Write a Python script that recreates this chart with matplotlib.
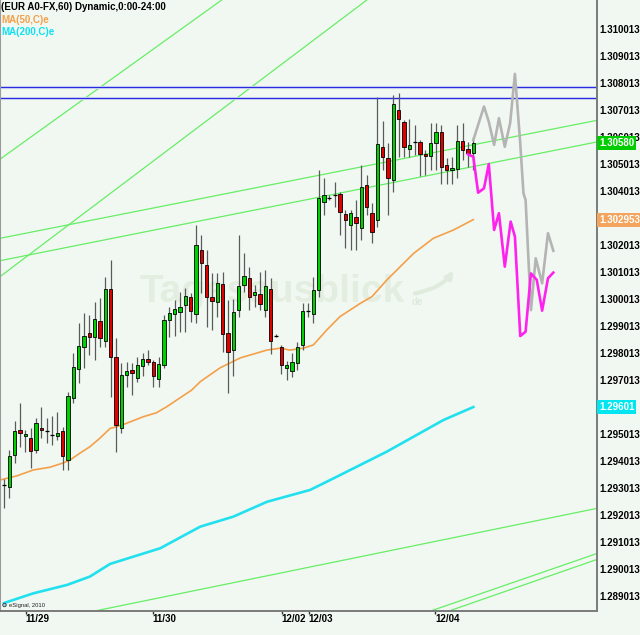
import matplotlib
matplotlib.use('Agg')
import matplotlib.pyplot as plt
from matplotlib.patches import Circle

plt.rcParams['font.family'] = ['Liberation Sans', 'DejaVu Sans']
plt.rcParams['font.weight'] = 'bold'

#--------------------------------------------------
# EUR A0-FX hourly candles
#--------------------------------------------------
opens = [1.29312, 1.29306, 1.29423, 1.29515, 1.29494, 1.29485, 1.29442, 1.29524, 1.29515, 1.29497,
         1.29494, 1.29512, 1.29405, 1.29633, 1.29741, 1.29825, 1.29875, 1.29859, 1.29921, 1.29847,
         1.30037, 1.29788, 1.29522, 1.29718, 1.29738, 1.29710, 1.29753, 1.29779, 1.29768, 1.29704,
         1.29757, 1.29923, 1.29944, 1.29954, 1.29979, 1.30007, 1.29947, 1.30181, 1.30127, 1.30010,
         1.29991, 1.30055, 1.29876, 1.29814, 1.29960, 1.30053, 1.30079, 1.30016, 1.30020, 1.29960,
         1.30039, 1.29866, 1.29825, 1.29744, 1.29736, 1.29763, 1.29831, 1.29957, 1.29944, 1.30034,
         1.30362, 1.30376, 1.30386, 1.30389, 1.30316, 1.30275, 1.30304, 1.30263, 1.30423, 1.30321,
         1.30294, 1.30565, 1.30522, 1.30442, 1.30701, 1.30658, 1.30556, 1.30584, 1.30581, 1.30538,
         1.30531, 1.30578, 1.30621, 1.30496, 1.30479, 1.30481, 1.30588, 1.30557, 1.30543]

closes = [1.29313, 1.29420, 1.29512, 1.29504, 1.29500, 1.29439, 1.29543, 1.29516, 1.29512, 1.29498,
          1.29504, 1.29420, 1.29642, 1.29748, 1.29827, 1.29864, 1.29859, 1.29928, 1.29855, 1.30037,
          1.29788, 1.29534, 1.29718, 1.29736, 1.29726, 1.29757, 1.29780, 1.29769, 1.29716, 1.29759,
          1.29923, 1.29951, 1.29965, 1.29970, 1.30014, 1.29957, 1.30200, 1.30133, 1.30010, 1.29994,
          1.30062, 1.29870, 1.29806, 1.29954, 1.30049, 1.30086, 1.30010, 1.30028, 1.29983, 1.30049,
          1.29847, 1.29866, 1.29757, 1.29757, 1.29767, 1.29825, 1.29958, 1.29957, 1.30034, 1.30376,
          1.30386, 1.30376, 1.30386, 1.30325, 1.30294, 1.30321, 1.30284, 1.30417, 1.30341, 1.30251,
          1.30574, 1.30528, 1.30448, 1.30722, 1.30668, 1.30563, 1.30572, 1.30584, 1.30538, 1.30532,
          1.30578, 1.30618, 1.30489, 1.30479, 1.30488, 1.30588, 1.30553, 1.30541, 1.30580]

highs = [1.29333, 1.29442, 1.29549, 1.29617, 1.29516, 1.29522, 1.29559, 1.29602, 1.29559, 1.29569,
         1.29582, 1.29528, 1.29658, 1.29802, 1.29913, 1.29948, 1.29942, 1.29991, 1.30006, 1.30084,
         1.30146, 1.29855, 1.29763, 1.29768, 1.29763, 1.29788, 1.29800, 1.29812, 1.29775, 1.29788,
         1.29942, 1.29973, 1.29997, 1.30028, 1.30041, 1.30022, 1.30274, 1.30239, 1.30183, 1.30096,
         1.30096, 1.30102, 1.29997, 1.30003, 1.30238, 1.30170, 1.30121, 1.30053, 1.30102, 1.30109,
         1.30080, 1.29870, 1.29831, 1.29773, 1.29800, 1.29843, 1.29987, 1.29987, 1.30084, 1.30479,
         1.30448, 1.30386, 1.30436, 1.30399, 1.30331, 1.30331, 1.30368, 1.30497, 1.30460, 1.30355,
         1.30751, 1.30660, 1.30578, 1.30755, 1.30763, 1.30664, 1.30667, 1.30646, 1.30590, 1.30553,
         1.30652, 1.30652, 1.30646, 1.30522, 1.30528, 1.30646, 1.30652, 1.30584, 1.30600]

lows = [1.29226, 1.29263, 1.29392, 1.29454, 1.29436, 1.29374, 1.29429, 1.29485, 1.29466, 1.29460,
        1.29479, 1.29368, 1.29368, 1.29615, 1.29689, 1.29744, 1.29794, 1.29775, 1.29825, 1.29825,
        1.29639, 1.29436, 1.29506, 1.29676, 1.29645, 1.29695, 1.29716, 1.29757, 1.29676, 1.29676,
        1.29744, 1.29859, 1.29864, 1.29880, 1.29880, 1.29917, 1.29911, 1.30025, 1.29899, 1.29886,
        1.29936, 1.29806, 1.29654, 1.29716, 1.29936, 1.30028, 1.29960, 1.29970, 1.29960, 1.29936,
        1.29797, 1.29862, 1.29722, 1.29701, 1.29713, 1.29738, 1.29812, 1.29936, 1.29911, 1.30010,
        1.30312, 1.30368, 1.30343, 1.30238, 1.30189, 1.30183, 1.30183, 1.30220, 1.30312, 1.30207,
        1.30269, 1.30480, 1.30312, 1.30399, 1.30528, 1.30528, 1.30528, 1.30535, 1.30457, 1.30460,
        1.30479, 1.30479, 1.30427, 1.30427, 1.30427, 1.30448, 1.30516, 1.30491, 1.30479]

# moving averages (bar index, price)
ma50_x = [-0.7, 2.4, 5.5, 8.6, 11.1, 12.4, 14.3, 16.1, 18, 19.9, 21.1, 23, 26.1, 28.6, 30.5, 33, 35.2, 36.8,
          38.6, 40.5, 44.3, 49.3, 51.8, 53.6, 56.1, 58, 60.5, 63, 66.8, 69, 71.8, 74.3, 76.8, 80.5, 84.3, 88]
ma50_y = [1.29331, 1.29346, 1.29368, 1.29378, 1.29394, 1.29405, 1.29431, 1.29454, 1.29486, 1.29522,
          1.29528, 1.29541, 1.29565, 1.29580, 1.29602, 1.29635, 1.29664, 1.29695, 1.29720, 1.29746,
          1.29783, 1.29812, 1.29819, 1.29812, 1.29819, 1.29831, 1.29886, 1.29936, 1.29985, 1.30010,
          1.30072, 1.30121, 1.30170, 1.30226, 1.30257, 1.302953]
ma200_x = [0, 5.5, 11.8, 16.1, 19.9, 29.3, 36.8, 43, 49.3, 57.4, 61.8, 71.8, 82.4, 88]
ma200_y = [1.28875, 1.28911, 1.28942, 1.28973, 1.29020, 1.29078, 1.29158, 1.29195, 1.29250,
           1.29294, 1.29337, 1.29436, 1.29553, 1.29601]

# projected paths
mag_x = [87, 88, 88.9, 90, 90.9, 91.9, 92.8, 93.9, 95, 95.8, 96.8, 97.8, 98.8, 99.9, 100.9, 102, 103]
mag_y = [1.30537, 1.30528, 1.30395, 1.30411, 1.30501, 1.30257, 1.30319, 1.30121, 1.30288, 1.30232,
         1.29864, 1.29880, 1.30096, 1.30072, 1.29958, 1.30078, 1.30099]
gray_x = [88, 88.9, 90, 90.9, 91.9, 92.8, 93.9, 94.9, 95.8, 96.8, 97.4, 97.8, 98.8, 99.7, 100.9, 102, 103]
gray_y = [1.30590, 1.30646, 1.30714, 1.30658, 1.30572, 1.30671, 1.30565, 1.30652, 1.30835, 1.30578,
          1.30393, 1.30368, 1.29960, 1.30152, 1.30059, 1.30245, 1.30180]

# drawn trend lines, two anchor points each
trend_lines = [((-0.75, 1.30519), (36.75, 1.31051)),
               ((-0.75, 1.30084), (55.5, 1.30922)),
               ((-0.75, 1.30226), (111.19, 1.30663)),
               ((-0.75, 1.30143), (111.19, 1.30583)),
               ((17.4, 1.28847), (111.25, 1.29226)),
               ((80.5, 1.28849), (111.25, 1.29059)),
               ((83.95, 1.28849), (111.25, 1.29037))]
blue_levels = [1.30785, 1.30745]

x_ticks = [4.1, 27.9, 52.1, 57.1, 80.8]
x_labels = ['11/29', '11/30', '12/02', '12/03', '12/04']
y_ticks = [1.289013 + 0.001 * k for k in range(22)]
hidden_ticks = ['1.296013', '1.303013']   # fully covered by the value boxes

last_close = 1.30580
last_ma50 = 1.302953
last_ma200 = 1.29601

bg = '#F1F8F1'
fig = plt.figure(figsize=(6.4, 6.35), dpi=100, facecolor=bg)
ax = fig.add_axes([0, 1 - 610.5 / 635, 597 / 640, 610.5 / 635])
ax.set_facecolor('none')

# watermark
ax.text(140 / 640, 1 - 302 / 635, 'Tagesausblick', transform=fig.transFigure, fontsize=28,
        color='#E3EEE0', va='baseline', ha='left', zorder=0.3)
ax.text(412 / 640, 1 - 305 / 635, 'de', transform=fig.transFigure, fontsize=7,
        color='#DDE9DA', va='baseline', ha='left', zorder=0.3)
ax.annotate('', xy=(455 / 640, 1 - 268 / 635), xytext=(412 / 640, 1 - 294 / 635),
            xycoords='figure fraction', textcoords='figure fraction',
            arrowprops=dict(arrowstyle='-|>', color='#E0EBDD', lw=3,
                            connectionstyle='angle3,angleA=10,angleB=60'), zorder=0.3)

# trend lines
for p1, p2 in trend_lines:
    ax.axline(p1, p2, color='#66EE66', lw=0.9, zorder=1)
for lv in blue_levels:
    ax.axhline(lv, color='#D2DAF2', lw=2.2, zorder=1)
    ax.axhline(lv, color='#2A2AE0', lw=0.85, zorder=1.1)

# moving averages
ax.plot(ma200_x, ma200_y, color='#22E0EE', lw=1.9, zorder=2)
ax.plot(ma50_x, ma50_y, color='#F4A04A', lw=1.2, zorder=2)

# candles
idx = list(range(len(opens)))
ax.vlines(idx, lows, highs, color='#5a5a5a', lw=0.9, zorder=3)
for i in idx:
    o, c = opens[i], closes[i]
    col = '#00D000' if c >= o else '#E00000'
    h = abs(c - o)
    if h < 0.00004:
        ax.hlines((o + c) / 2, i - 0.4, i + 0.4, color='black', lw=0.9, zorder=4)
    else:
        ax.bar(i, h, bottom=min(o, c), width=0.68, color=col, edgecolor='black', lw=0.6, zorder=4)

# projections
ax.plot(gray_x, gray_y, color='#B4B4B4', lw=1.9, zorder=5)
ax.plot(mag_x, mag_y, color='#FF22EE', lw=1.9, zorder=5)

ax.set_xlim(-0.75, 111.19)
ax.set_ylim(1.288474, 1.311087)

ax.yaxis.tick_right()
ax.set_yticks(y_ticks)
ylabs = ['%.6f' % v for v in y_ticks]
ax.set_yticklabels(['' if s in hidden_ticks else s for s in ylabs])
ax.tick_params(axis='y', length=0, pad=1.5, labelsize=7)
ax.set_xticks(x_ticks)
ax.set_xticklabels(x_labels)
ax.tick_params(axis='x', length=2, width=1, color='#333333', pad=0.5, labelsize=7, direction='out')
for lbl in ax.get_xticklabels():
    lbl.set_ha('left')

ax.spines['top'].set_visible(False)
ax.spines['left'].set_color('#9a9a9a')
ax.spines['left'].set_linewidth(0.8)
for s in ['right', 'bottom']:
    ax.spines[s].set_color('#7a7a7a')
    ax.spines[s].set_linewidth(1.4)

# last value boxes on the price axis
for val, txt, col in [(last_close, '1.30580', '#00CC00'),
                      (last_ma50, '1.302953', '#F4A45C'),
                      (last_ma200, '1.29601', '#00E6F0')]:
    ax.annotate(txt, xy=(1.0, val), xycoords=('axes fraction', 'data'), xytext=(1.5, 0),
                textcoords='offset points', ha='left', va='center', fontsize=7, color='white',
                bbox=dict(boxstyle='square,pad=0.2', fc=col, ec='none'), annotation_clip=False, zorder=10)

# legend texts
fig.text(1 / 640, 1 - 7.5 / 635, '(EUR A0-FX,60) Dynamic,0:00-24:00', fontsize=7, color='black', va='center')
fig.text(1 / 640, 1 - 20 / 635, 'MA(50,C)e', fontsize=7, color='#F4A04A', va='center')
fig.text(1 / 640, 1 - 32.3 / 635, 'MA(200,C)e', fontsize=7, color='#10E0F0', va='center')

# source note
fig.patches.append(Circle((4.5 / 640, 1 - 605 / 635), 0.0027, transform=fig.transFigure,
                          fc='#88DDEE', ec='#333333', lw=0.6))
fig.text(9 / 640, 1 - 605 / 635, 'eSignal, 2010', fontsize=4.2, fontweight='normal', color='#222222', va='center')

fig.savefig('out.png', dpi=100, facecolor=bg)
